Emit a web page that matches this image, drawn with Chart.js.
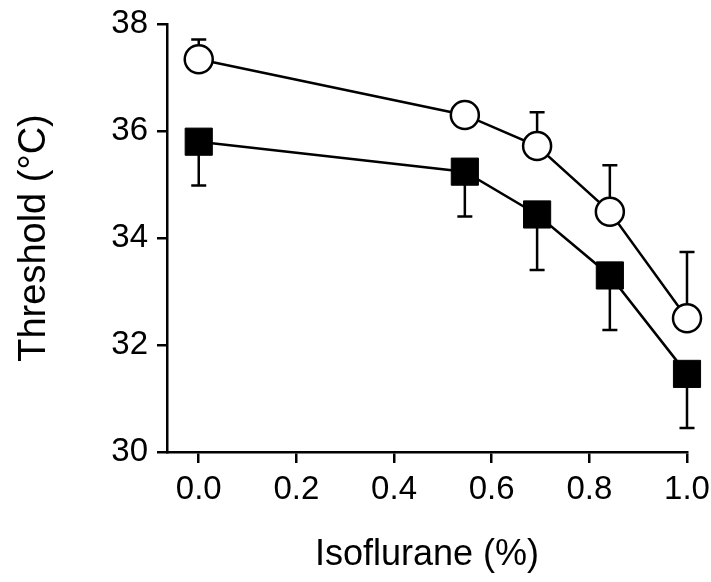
<!DOCTYPE html>
<html>
<head>
<meta charset="utf-8">
<script src="https://cdn.jsdelivr.net/npm/chart.js@4"></script>
<style>
  html, body { margin: 0; padding: 0; background: #fff; }
  #wrap { width: 711px; height: 582px; }
</style>
</head>
<body>
<div id="wrap"><canvas id="c" width="711" height="582"></canvas></div>
<script>
// Isoflurane concentration (%)
const doses = [0, 0.545, 0.693, 0.842, 1.0];
// Open circles (upper curve) - mean and upward SD
const circleMean = [37.34, 36.30, 35.72, 34.49, 32.50];
const circleSD = [0.37, 0.2, 0.63, 0.87, 1.24];
// Filled squares (lower curve) - mean and downward SD
const squareMean = [35.80, 35.24, 34.44, 33.30, 31.46];
const squareSD = [0.82, 0.84, 1.04, 1.02, 1.01];
// Tick labels
const xTicks = [0, 0.2, 0.4, 0.6, 0.8, 1.0];
const yTicks = [30, 32, 34, 36, 38];

const FONT = "'Liberation Sans', Arial, Helvetica, sans-serif";

const errorBars = {
  id: 'errorBars',
  beforeDatasetsDraw(chart) {
    const ctx = chart.ctx;
    const xs = chart.scales.x, ys = chart.scales.y;
    ctx.save();
    ctx.strokeStyle = '#000';
    ctx.lineWidth = 2.5;
    chart.data.datasets.forEach(ds => {
      ds.data.forEach((p, i) => {
        const end = p.y + ds.errDir * ds.err[i];
        const px = xs.getPixelForValue(p.x);
        const py = ys.getPixelForValue(p.y);
        const pe = ys.getPixelForValue(end);
        ctx.beginPath();
        ctx.moveTo(px, py);
        ctx.lineTo(px, pe);
        ctx.moveTo(px - 7.5, pe);
        ctx.lineTo(px + 7.5, pe);
        ctx.stroke();
      });
    });
    ctx.restore();
  }
};

new Chart(document.getElementById('c'), {
  type: 'line',
  data: {
    datasets: [
      {
        data: doses.map((d, i) => ({ x: d, y: circleMean[i] })),
        err: circleSD, errDir: 1,
        borderColor: '#000', borderWidth: 2.5,
        pointStyle: 'circle', pointRadius: 14, pointBorderWidth: 2.5,
        pointBackgroundColor: '#fff', pointBorderColor: '#000',
        clip: false, tension: 0
      },
      {
        data: doses.map((d, i) => ({ x: d, y: squareMean[i] })),
        err: squareSD, errDir: -1,
        borderColor: '#000', borderWidth: 2.5,
        pointStyle: 'rect', pointRadius: 19.2, pointBorderWidth: 1,
        pointBackgroundColor: '#000', pointBorderColor: '#000',
        clip: false, tension: 0
      }
    ]
  },
  options: {
    responsive: false,
    animation: false,
    events: [],
    layout: { padding: { left: 0, right: 24, top: 24, bottom: 0 } },
    plugins: { legend: { display: false }, tooltip: { enabled: false } },
    scales: {
      x: {
        type: 'linear',
        min: -0.065, max: 1.0,
        afterBuildTicks: s => { s.ticks = xTicks.map(v => ({ value: v })); },
        afterFit: s => { s.height = 130; s.paddingLeft = 0; s.paddingRight = 0; },
        ticks: {
          color: '#000', font: { family: FONT, size: 33 }, padding: 7,
          maxRotation: 0, autoSkip: false,
          callback: v => Number(v).toFixed(1)
        },
        grid: { display: true, drawOnChartArea: false, drawTicks: true, tickLength: 11, color: '#000', lineWidth: 2.5 },
        border: { display: true, color: '#000', width: 2.5 },
        title: { display: true, text: 'Isoflurane (%)', color: '#000', font: { family: FONT, size: 36 }, padding: { top: 0, bottom: 5 } }
      },
      y: {
        type: 'linear',
        min: 30, max: 38,
        afterBuildTicks: s => { s.ticks = yTicks.map(v => ({ value: v })); },
        afterFit: s => { s.width = 167; s.paddingTop = 0; s.paddingBottom = 0; },
        ticks: { color: '#000', font: { family: FONT, size: 33 }, padding: 9 },
        grid: { display: true, drawOnChartArea: false, drawTicks: true, tickLength: 10, color: '#000', lineWidth: 2.5 },
        border: { display: true, color: '#000', width: 2.5 },
        title: { display: true, text: 'Threshold (°C)', color: '#000', font: { family: FONT, size: 38 }, padding: { top: 12, bottom: 0 } }
      }
    }
  },
  plugins: [errorBars]
});
</script>
</body>
</html>
